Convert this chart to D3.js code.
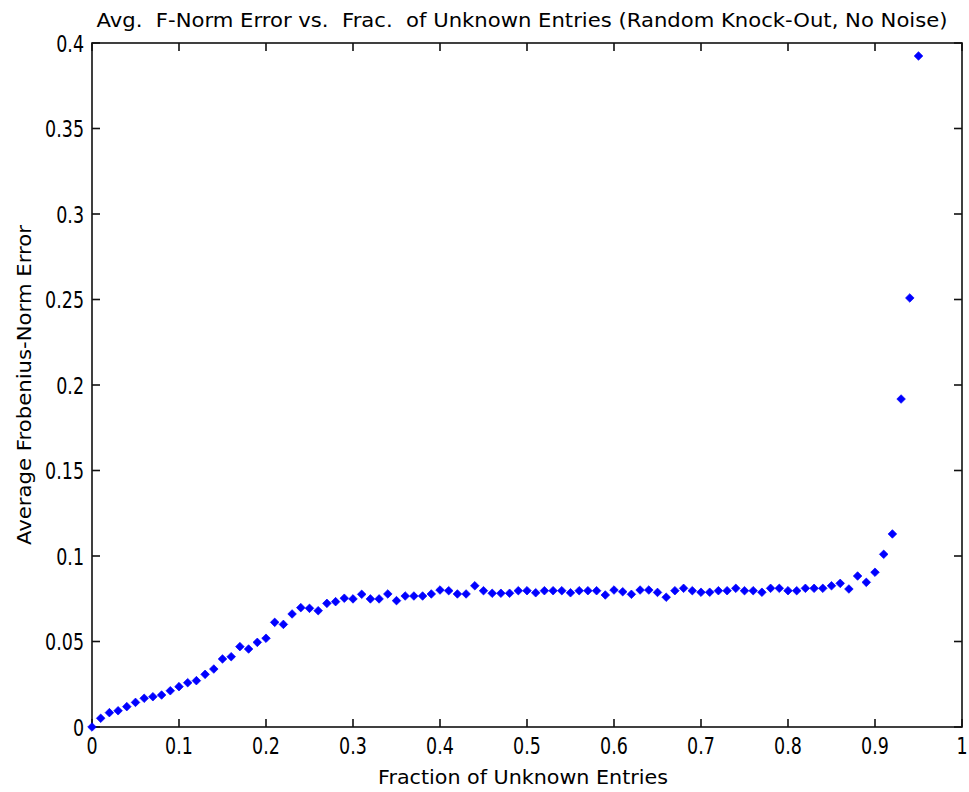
<!DOCTYPE html>
<html>
<head>
<meta charset="utf-8">
<script src="https://cdn.jsdelivr.net/npm/d3@7"></script>
<style>
  html, body { margin: 0; padding: 0; background: #fff; }
  svg { display: block; }
  text { font-family: "DejaVu Sans", "Liberation Sans", sans-serif; fill: #000; }
</style>
</head>
<body>
<svg id="chart" width="969" height="792"></svg>
<script>
// ---- data ----
const fractions = [
  0.00,0.01,0.02,0.03,0.04,0.05,0.06,0.07,0.08,0.09,
  0.10,0.11,0.12,0.13,0.14,0.15,0.16,0.17,0.18,0.19,
  0.20,0.21,0.22,0.23,0.24,0.25,0.26,0.27,0.28,0.29,
  0.30,0.31,0.32,0.33,0.34,0.35,0.36,0.37,0.38,0.39,
  0.40,0.41,0.42,0.43,0.44,0.45,0.46,0.47,0.48,0.49,
  0.50,0.51,0.52,0.53,0.54,0.55,0.56,0.57,0.58,0.59,
  0.60,0.61,0.62,0.63,0.64,0.65,0.66,0.67,0.68,0.69,
  0.70,0.71,0.72,0.73,0.74,0.75,0.76,0.77,0.78,0.79,
  0.80,0.81,0.82,0.83,0.84,0.85,0.86,0.87,0.88,0.89,
  0.90,0.91,0.92,0.93,0.94,0.95
];
const avgError = [
  0.0000,0.0051,0.0084,0.0095,0.0119,0.0144,0.0168,0.0177,0.0187,0.0212,
  0.0236,0.0259,0.0271,0.0308,0.0339,0.0398,0.0411,0.0470,0.0456,0.0495,
  0.0519,0.0612,0.0600,0.0661,0.0698,0.0694,0.0680,0.0723,0.0733,0.0753,
  0.0749,0.0776,0.0749,0.0749,0.0778,0.0739,0.0766,0.0766,0.0766,0.0778,
  0.0801,0.0797,0.0778,0.0778,0.0826,0.0797,0.0782,0.0782,0.0782,0.0797,
  0.0797,0.0785,0.0797,0.0797,0.0797,0.0785,0.0797,0.0797,0.0797,0.0772,
  0.0801,0.0791,0.0776,0.0801,0.0801,0.0787,0.0759,0.0797,0.0811,0.0797,
  0.0788,0.0788,0.0797,0.0797,0.0811,0.0797,0.0797,0.0788,0.0811,0.0811,
  0.0797,0.0797,0.0811,0.0811,0.0811,0.0826,0.0840,0.0807,0.0883,0.0846,
  0.0905,0.1010,0.1129,0.1918,0.2509,0.3924
];
const xTicks = [0,0.1,0.2,0.3,0.4,0.5,0.6,0.7,0.8,0.9,1];
const yTicks = [0,0.05,0.1,0.15,0.2,0.25,0.3,0.35,0.4];
const xTickLabels = ["0","0.1","0.2","0.3","0.4","0.5","0.6","0.7","0.8","0.9","1"];
const yTickLabels = ["0","0.05","0.1","0.15","0.2","0.25","0.3","0.35","0.4"];
const titleText = "Avg.  F-Norm Error vs.  Frac.  of Unknown Entries (Random Knock-Out, No Noise)";
const xLabelText = "Fraction of Unknown Entries";
const yLabelText = "Average Frobenius-Norm Error";

(function () {
  const svg = d3.select("#chart");
  const pLeft = 92, pRight = 962, pTop = 43, pBottom = 727;
  const x = d3.scaleLinear().domain([0, 1]).range([pLeft, pRight]);
  const y = d3.scaleLinear().domain([0, 0.4]).range([pBottom, pTop]);
  const tickLen = 8;
  const sx = 0.76; // horizontal squeeze of the narrow tick font

  // frame
  svg.append("rect")
    .attr("x", pLeft).attr("y", pTop)
    .attr("width", pRight - pLeft).attr("height", pBottom - pTop)
    .attr("fill", "#fff").attr("stroke", "#111").attr("stroke-width", 1.6);

  // ticks (inward, on all four sides)
  const gT = svg.append("g").attr("stroke", "#111").attr("stroke-width", 1.6);
  xTicks.forEach(t => {
    gT.append("line").attr("x1", x(t)).attr("x2", x(t)).attr("y1", pBottom).attr("y2", pBottom - tickLen);
    gT.append("line").attr("x1", x(t)).attr("x2", x(t)).attr("y1", pTop).attr("y2", pTop + tickLen);
  });
  yTicks.forEach(t => {
    gT.append("line").attr("x1", pLeft).attr("x2", pLeft + tickLen).attr("y1", y(t)).attr("y2", y(t));
    gT.append("line").attr("x1", pRight).attr("x2", pRight - tickLen).attr("y1", y(t)).attr("y2", y(t));
  });

  // tick labels
  const tickFont = 23;
  svg.append("g").selectAll("text").data(xTicks).join("text")
    .attr("transform", d => `translate(${x(d)},${pBottom + 27}) scale(${sx},1)`)
    .attr("text-anchor", "middle").attr("font-size", tickFont)
    .text((d, i) => xTickLabels[i]);
  svg.append("g").selectAll("text").data(yTicks).join("text")
    .attr("transform", d => `translate(${pLeft - 8},${y(d) + 8.5}) scale(${sx},1)`)
    .attr("text-anchor", "end").attr("font-size", tickFont)
    .text((d, i) => yTickLabels[i]);

  // data markers (filled diamonds)
  const r = 4.3;
  const diamond = `M0,${-r}L${r},0L0,${r}L${-r},0Z`;
  svg.append("g").selectAll("path").data(fractions).join("path")
    .attr("transform", (d, i) => `translate(${x(d)},${y(avgError[i])})`)
    .attr("d", diamond)
    .attr("fill", "#0000ff").attr("stroke", "#0000ff").attr("stroke-width", 0.7);

  // title
  svg.append("text")
    .attr("x", 522).attr("y", 27)
    .attr("text-anchor", "middle").attr("font-size", 20)
    .attr("textLength", 851).attr("lengthAdjust", "spacingAndGlyphs")
    .style("white-space", "pre")
    .text(titleText);

  // x label
  svg.append("text")
    .attr("x", 523).attr("y", 784)
    .attr("text-anchor", "middle").attr("font-size", 20)
    .attr("textLength", 290).attr("lengthAdjust", "spacingAndGlyphs")
    .text(xLabelText);

  // y label
  svg.append("text")
    .attr("transform", "translate(31,385) rotate(-90)")
    .attr("text-anchor", "middle").attr("font-size", 20)
    .attr("textLength", 320).attr("lengthAdjust", "spacingAndGlyphs")
    .text(yLabelText);
})();
</script>
</body>
</html>
